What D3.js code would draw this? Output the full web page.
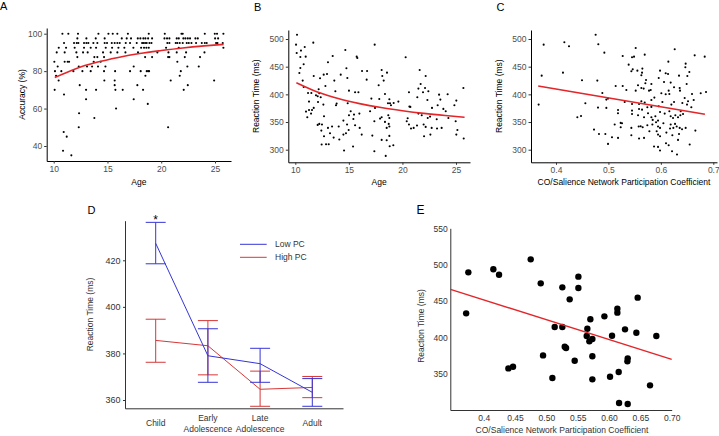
<!DOCTYPE html>
<html><head><meta charset="utf-8">
<script src="https://cdn.jsdelivr.net/npm/d3@7"></script>
<style>
body{margin:0;background:#fff}
svg{display:block}
text{font-family:"Liberation Sans",Arial,Helvetica,sans-serif}
</style>
</head><body>
<svg id="chart" width="719" height="436"></svg>
<script>
// ---------------- DATA ----------------
// Panel A: accuracy levels and the ages of subjects at each level
const accLevelsA = [100, 97.5, 95, 92.5, 90, 87.5, 85, 82.5, 80, 77.5, 75, 72.5, 70, 67.5, 65, 62.5, 60, 57.5, 55, 50, 47.5, 45, 37.5, 35];
const agesByLevelA = [
  [10.81, 11.36, 12.26, 14.16, 15.09, 15.49, 15.92, 16.9, 18.84, 20.33, 21.88, 22.0, 24.05, 24.98, 25.19, 25.78],
  [12.2, 13.04, 13.91, 14.74, 16.33, 16.79, 17.19, 17.82, 18.06, 18.34, 18.53, 18.78, 19.15, 20.3, 20.54, 20.76, 21.44, 21.63, 22.06, 22.25, 22.47, 22.68, 23.18, 23.4, 25.01, 25.29],
  [10.96, 11.89, 12.14, 12.29, 12.82, 13.04, 13.22, 13.69, 14.06, 14.74, 14.96, 15.4, 15.67, 15.92, 16.14, 16.7, 17.1, 17.72, 18.22, 18.34, 18.5, 18.65, 18.9, 19.09, 20.57, 20.76, 21.35, 21.5, 21.72, 22.0, 22.37, 22.56, 22.81, 23.24, 23.77, 24.05, 24.23, 25.1, 25.23, 25.72],
  [10.47, 11.15, 11.95, 12.82, 13.44, 13.94, 14.84, 15.43, 16.02, 16.57, 17.41, 18.13, 18.4, 18.62, 18.84, 20.45, 21.63, 25.78],
  [10.28, 11.02, 12.11, 12.73, 13.16, 14.59, 15.3, 15.92, 16.67, 17.84, 19.64, 20.67, 21.44, 22.31, 24.02],
  [12.2, 13.78, 14.06, 14.68, 18.5, 19.15, 20.64, 20.76, 22.19, 23.61],
  [10.06, 11.02, 11.3, 11.43, 13.72, 14.37, 21.5],
  [10.37, 12.33, 13.1, 13.57, 14.12, 14.81, 17.44, 22.43, 23.49],
  [10.12, 10.71, 11.83, 12.67, 13.44, 14.68, 15.71, 17.1, 18.09, 18.65, 18.78, 18.87, 21.82],
  [10.22, 18.53, 21.72],
  [10.46, 14.71, 15.67, 20.88, 24.92],
  [12.42, 15.67, 17.78, 22.47],
  [10.09, 13.01, 13.94, 15.74, 16.42, 18.31, 22.09],
  [10.96],
  [13.01, 17.44],
  [18.75],
  [15.8],
  [12.36],
  [13.78],
  [12.33, 20.64],
  [10.93],
  [11.21],
  [10.87],
  [11.64]
];
const fitAgeA = [10.1, 12, 14, 16, 18, 20, 22, 24, 25.8];
const fitAccA = [76.6, 81.2, 84.7, 87.3, 89.4, 91.0, 92.4, 93.5, 94.3];

// Panel B: age vs reaction time
const ageB = [10.16,10.07,10.88,11.68,10.53,10.13,10.97,10.47,10.78,10.38,10.47,14.67,17.41,15.79,15.73,13.49,13.05,14.77,16.23,16.7,11.72,12.65,14.24,12.31,12.96,13.64,14.86,10.69,16.66,12.81,15.01,15.58,15.89,17.1,13.74,12.18,12.24,10.78,11.19,11.5,11.93,12.09,12.37,11.28,12.12,13.86,13.8,14.89,12.62,11.0,11.28,11.56,11.72,11.47,11.12,12.68,15.01,15.48,15.17,15.98,16.98,17.38,15.42,14.49,12.24,12.09,12.49,13.05,13.43,14.05,14.83,14.98,15.58,16.01,16.2,17.19,12.43,14.73,13.58,14.11,14.49,12.68,13.24,12.46,12.87,13.12,14.55,15.39,17.38,
  20.3,18.06,18.56,18.12,18.25,17.78,21.61,22.17,21.7,22.11,21.49,22.42,21.92,21.39,20.61,22.33,23.42,24.22,23.54,17.84,18.37,18.78,18.65,18.84,18.93,19.18,19.62,20.65,20.74,22.76,23.29,23.82,24.04,25.03,24.85,25.69,17.44,18.06,18.78,18.68,18.37,17.91,18.72,18.78,18.53,20.4,20.49,20.61,20.8,21.05,21.36,21.49,21.8,21.98,22.17,22.58,22.36,23.2,23.66,24.29,22.73,23.23,22.02,22.61,24.97,25.03,25.13,25.72,18.78,18.53,18.81,19.15,18.44,18.06];
const rtB = [507.8,489.8,485.6,493.4,479,474.7,468.1,467.5,454.3,438.6,447.7,480.1,489.8,465.7,468.1,469.3,457.9,447.1,442.2,442.2,433.2,435.6,435.6,429,436.8,424.8,429.6,424.8,426.6,415.2,406.7,403.7,403.7,392.3,405.5,409.2,401.9,413.4,402.5,402.5,398.3,396.5,394.7,386.9,386.3,383.3,380.3,383.9,381.5,368.8,371.8,371.8,375.5,365.2,358.6,360.4,362.2,363.4,369.4,365.2,369.4,351.4,355.6,352.6,346.6,344.8,345.4,339.4,341.8,341.8,345.4,335.7,344.2,339.4,327.3,325.5,334.5,329.7,321.9,318.3,327.3,324.3,329.7,309.3,309.9,309.9,298.5,305.7,297.2,
  466.9,444,439.2,433.2,424.8,416.4,444,433.2,418.8,411.6,410.4,405.5,403.7,394.7,403.7,389.9,399.5,400.1,390.5,391.7,400.7,391.1,383.9,383.9,380.3,384.5,386.9,377.9,377.3,375.5,380.3,373.7,369.4,388.7,380.3,411.6,375.5,358.6,357.4,362.2,350.2,356.2,346.6,341.8,339.4,351.4,356.8,345.4,338.2,339.4,343.6,365.2,362.2,345.4,341.2,359.8,357.4,355,339.4,357.4,339.4,338.2,324.3,327.3,351.4,327.3,335.7,320.1,324.9,317.1,306.3,308.1,288.8,317.7];
const fitAgeB = [10.1, 12, 14, 16, 18, 20, 22, 24, 25.8];
const fitRtB = [421, 404.8, 392.5, 383.3, 376.1, 370.4, 365.6, 361.7, 358.7];

// Panel C: CO/Salience participation coefficient vs reaction time
const pcC = [0.4756,0.3765,0.4159,0.4248,0.4807,0.4922,0.3727,0.4133,0.4496,0.4788,0.5138,0.4884,0.4992,0.496,0.3669,0.456,0.4801,0.496,0.5182,0.4477,0.4407,0.5119,0.5233,0.4725,0.482,0.4941,0.5068,0.4992,
  0.552,0.5488,0.545,0.5272,0.5692,0.6264,0.6143,0.6645,0.6836,0.5386,0.5463,0.5552,0.5647,0.5641,0.5628,0.5437,0.5984,0.6092,0.6137,0.6473,0.6467,0.6543,0.6505,0.5959,0.6346,0.5717,0.5704,0.5564,0.5272,0.5819,0.606,0.6187,0.6492,0.676,0.6861,0.6594,0.5672,0.5628,0.5774,0.5806,0.552,0.5342,0.6251,0.6359,0.6365,0.6149,0.6009,0.6092,0.6162,0.6454,0.6518,0.6626,0.6499,0.5876,0.5819,0.5692,0.5628,0.5584,0.545,0.531,0.5742,0.5819,0.5959,0.6029,0.6251,0.641,0.62,0.6581,0.5183,0.545,0.545,0.5584,0.5641,0.5565,0.5679,0.5755,0.5819,0.5895,0.5984,0.6073,0.6162,0.6187,0.6232,0.6276,0.6327,0.6372,0.6378,0.6423,0.5259,0.5234,0.5437,0.5577,0.5615,0.5653,0.5742,0.5844,0.5838,0.5908,0.5946,0.5984,0.592,0.5946,0.6048,0.6187,0.6175,0.6238,0.627,0.6302,0.6359,0.6346,0.6404,0.6473,0.6658,0.6105,0.5781,0.5437,0.5584,0.5679,0.5946,0.5984,0.6219,0.6327,0.655,0.6098,0.6149,0.587,0.5946,0.5984,0.6213,0.6308,0.5183];
const rtC = [507.8,489.8,494,486.8,490.4,475.3,433.8,439.2,425.4,424.8,415.2,402.5,392.3,390.5,381.5,383.9,376.1,375.5,365.8,361,358.6,345.4,348.4,336.3,328.5,328.5,322.5,310.5,
  483.8,468.1,466.9,469.3,471.7,481.4,459.1,470.5,468.1,453.7,445.2,442.8,446.5,439.2,434.4,441.6,442.8,438,436.8,455.5,448.9,440.4,433.2,429.6,433.8,426,420,416.4,415.2,418.8,422.4,421.2,418.8,401.9,404.3,400.7,410.4,411.6,406.7,407.9,406.7,407.9,412.8,411.6,406.7,406.7,401.9,400.1,400.7,393.5,387.5,389.9,381.5,394.1,389.9,385.1,387.5,382.7,382.7,386.3,376.7,377.3,378.5,386.3,386.3,384.5,381.5,376.7,371.8,370.6,364.6,373.6,372.4,362.2,358.6,365.8,358.6,360.4,368.2,365.2,369.4,360.4,357.4,362.2,358.6,362.2,369.4,364.6,347.8,340.6,339.4,341.8,342.4,340.6,344.2,353.8,345.4,349.6,352.6,339.4,333.3,341.8,347.8,345.4,338.2,339.4,346.6,341.8,339.4,328.5,337,339.4,334.5,330.9,333.3,326.1,320.1,321.3,327.3,324.3,326.1,317.7,309.3,311.7,308.1,305.7,305.1,298.5,297.2,291.2,321.3];
const fitPcC = [0.366, 0.684];
const fitRtC = [415.2, 364];

// Panel D: group means and error bar limits
const groupsD = ["Child", "Early Adolescence", "Late Adolescence", "Adult"];
const groupLinesD = [["Child"], ["Early", "Adolescence"], ["Late", "Adolescence"], ["Adult"]];
const lowPcMean = [427.3, 379.0, 375.6, 363.3];
const lowPcHi   = [436.3, 390.6, 382.2, 369.2];
const lowPcLo   = [418.5, 367.6, 367.6, 357.3];
const highPcMean = [385.6, 383.3, 364.6, 365.4];
const highPcHi   = [394.7, 394.1, 372.4, 370.1];
const highPcLo   = [376.2, 370.8, 357.3, 361.0];
const ticksD = [360, 380, 400, 420];

// Panel E: group-level PC vs reaction time
const pcE = [0.372,0.3755,0.4154,0.4245,0.4394,0.4468,0.475,0.491,0.4947,0.5096,0.5133,0.5255,0.5255,0.5293,0.5314,0.5372,0.5452,0.5511,0.5511,0.5654,0.5644,0.5702,0.5686,0.5734,0.5734,0.5734,0.5926,0.6016,0.6048,0.6133,0.6133,0.6154,0.616,0.6255,0.6298,0.6293,0.6298,0.6436,0.6457,0.6654,0.6755];
const rtE = [433,489.4,493.6,486.2,357.3,359.6,507.3,474.3,375.2,344,414.2,468.8,414.2,387.2,385.3,452.3,367.9,483.5,467.9,411.9,401.8,424.8,394.5,397.7,373.9,342.2,428.9,345.9,402.3,439.5,434,352.3,309.6,411,371.1,367,308.3,406.4,454.6,334,401.8];
const fitPcE = [0.347, 0.70];
const fitRtE = [466, 369.6];
const xTicksE = [0.4, 0.45, 0.5, 0.55, 0.6, 0.65, 0.7];
const xTickLabelsE = ["0.4", "0.45", "0.50", "0.55", "0.60", "0.65", "0.70"];

// ---------------- DRAWING ----------------
const svg = d3.select("#chart");
const RED = "#e3262a";
const FONT = 8.5;

// scale anchored at two reference values, extended to the given pixel extent
function anchored(d0, d1, p0, p1, e0, e1) {
  const s = d3.scaleLinear().domain([d0, d1]).range([p0, p1]);
  return d3.scaleLinear().domain([s.invert(e0), s.invert(e1)]).range([e0, e1]);
}

function styleAxis(g, size) {
  g.select(".domain").attr("stroke", "#000").attr("stroke-width", 1);
  g.selectAll(".tick line").attr("stroke", "#333").attr("stroke-width", 1);
  g.selectAll(".tick text").attr("fill", "#4d4d4d").style("font-size", size + "px")
    .style("font-family", '"Liberation Sans",Arial,sans-serif');
}

function ggPanel(x, y, xt, yt, xf, letter, letterPos, xlab, xlabY, ylab, ylabX) {
  const g = svg.append("g");
  const ax = g.append("g").attr("transform", `translate(0,${y.range()[0]})`)
    .call(d3.axisBottom(x).tickValues(xt).tickFormat(xf).tickSize(2.5).tickSizeOuter(0).tickPadding(2.5));
  styleAxis(ax, 8.5);
  const ay = g.append("g").attr("transform", `translate(${x.range()[0]},0)`)
    .call(d3.axisLeft(y).tickValues(yt).tickSize(2.5).tickSizeOuter(0).tickPadding(2));
  styleAxis(ay, 8.5);
  const xm = (x.range()[0] + x.range()[1]) / 2;
  const ym = (y.range()[0] + y.range()[1]) / 2;
  g.append("text").attr("x", xm).attr("y", xlabY).attr("text-anchor", "middle")
    .style("font-size", FONT + "px").text(xlab);
  g.append("text").attr("transform", `translate(${ylabX},${ym}) rotate(-90)`).attr("text-anchor", "middle")
    .attr("dy", "0.35em").style("font-size", FONT + "px").text(ylab);
  g.append("text").attr("x", letterPos[0]).attr("y", letterPos[1]).style("font-size", "11px").text(letter);
  return g;
}

// ----- Panel A -----
const xA = anchored(10, 25, 53.7, 215, 46.7, 231);
const yA = anchored(40, 100, 146, 33.7, 161, 28);
const gA = ggPanel(xA, yA, [10, 15, 20, 25], [40, 60, 80, 100], d3.format("d"), "A", [0, 10], "Age", 184.5, "Accuracy (%)", 22.5);
const ptsA = [];
accLevelsA.forEach((lv, i) => agesByLevelA[i].forEach(a => ptsA.push([a, lv])));
gA.append("g").selectAll("circle").data(ptsA).join("circle")
  .attr("cx", d => xA(d[0])).attr("cy", d => yA(d[1])).attr("r", 1.05).attr("fill", "#000");
gA.append("path").datum(d3.zip(fitAgeA, fitAccA))
  .attr("d", d3.line().x(d => xA(d[0])).y(d => yA(d[1])).curve(d3.curveMonotoneX))
  .attr("fill", "none").attr("stroke", RED).attr("stroke-width", 1.6);

// ----- Panel B -----
const xB = anchored(10, 25, 295.3, 456, 288.3, 470);
const yB = anchored(300, 500, 149.7, 39, 162.3, 30);
const gB = ggPanel(xB, yB, [10, 15, 20, 25], [300, 350, 400, 450, 500], d3.format("d"), "B", [254, 10.5], "Age", 184.5, "Reaction Time (ms)", 256);
gB.append("g").selectAll("circle").data(d3.zip(ageB, rtB)).join("circle")
  .attr("cx", d => xB(d[0])).attr("cy", d => yB(d[1])).attr("r", 1.05).attr("fill", "#000");
gB.append("path").datum(d3.zip(fitAgeB, fitRtB))
  .attr("d", d3.line().x(d => xB(d[0])).y(d => yB(d[1])).curve(d3.curveMonotoneX))
  .attr("fill", "none").attr("stroke", RED).attr("stroke-width", 1.6);

// ----- Panel C -----
const xC = anchored(0.4, 0.7, 556, 713.3, 531, 717);
const yC = anchored(300, 500, 149.7, 39, 162.3, 30);
const gC = ggPanel(xC, yC, [0.4, 0.5, 0.6, 0.7], [300, 350, 400, 450, 500], d3.format(".1f"), "C", [496.5, 10.5], "CO/Salience Network Participation Coefficient", 184.5, "Reaction Time (ms)", 499.5);
gC.append("g").selectAll("circle").data(d3.zip(pcC, rtC)).join("circle")
  .attr("cx", d => xC(d[0])).attr("cy", d => yC(d[1])).attr("r", 1.05).attr("fill", "#000");
gC.append("path").datum(d3.zip(fitPcC, fitRtC))
  .attr("d", d3.line().x(d => xC(d[0])).y(d => yC(d[1])))
  .attr("fill", "none").attr("stroke", RED).attr("stroke-width", 1.6);

// ----- Panel D -----
const BLUE_D = "#3535d6", RED_D = "#d63838";
const xD = d3.scalePoint().domain(groupsD).range([125, 343]).padding(0.588);
const yD = anchored(360, 420, 400, 260.3, 408.3, 220.7);
const gD = svg.append("g");
const axD = gD.append("g").attr("transform", `translate(0,${yD.range()[0]})`)
  .call(d3.axisBottom(xD).tickSize(0).tickSizeOuter(0).tickFormat(""));
axD.select(".domain").attr("stroke", "#333");
const ayD = gD.append("g").attr("transform", `translate(125,0)`)
  .call(d3.axisLeft(yD).tickValues(ticksD).tickSize(2).tickSizeOuter(0).tickPadding(2.5));
ayD.select(".domain").attr("stroke", "#333");
ayD.selectAll(".tick line").attr("stroke", "#333");
ayD.selectAll(".tick text").attr("fill", "#333").style("font-size", "9px");
groupsD.forEach((gName, i) => {
  const lines = groupLinesD[i];
  const t = gD.append("text").attr("text-anchor", "middle").attr("fill", "#333").style("font-size", FONT + "px");
  if (lines.length === 1) {
    t.attr("x", xD(gName)).attr("y", 426.3).text(lines[0]);
  } else {
    lines.forEach((l, k) => t.append("tspan").attr("x", xD(gName)).attr("y", 421.3 + k * 10.3).text(l));
  }
});
gD.append("text").attr("transform", `translate(90,${(yD.range()[0] + yD.range()[1]) / 2}) rotate(-90)`)
  .attr("text-anchor", "middle").attr("dy", "0.35em").attr("fill", "#333").style("font-size", FONT + "px").text("Reaction Time (ms)");
gD.append("text").attr("x", 87.5).attr("y", 213.5).style("font-size", "11px").text("D");

function drawSeriesD(mean, hi, lo, color) {
  const s = gD.append("g").attr("stroke", color).attr("fill", "none").attr("stroke-width", 1);
  s.append("path").datum(groupsD.map((gName, i) => [xD(gName), yD(mean[i])])).attr("d", d3.line());
  groupsD.forEach((gName, i) => {
    const cx = xD(gName);
    s.append("line").attr("x1", cx).attr("x2", cx).attr("y1", yD(lo[i])).attr("y2", yD(hi[i]));
    s.append("line").attr("x1", cx - 10).attr("x2", cx + 10).attr("y1", yD(lo[i])).attr("y2", yD(lo[i]));
    s.append("line").attr("x1", cx - 10).attr("x2", cx + 10).attr("y1", yD(hi[i])).attr("y2", yD(hi[i]));
  });
}
drawSeriesD(highPcMean, highPcHi, highPcLo, RED_D);
drawSeriesD(lowPcMean, lowPcHi, lowPcLo, BLUE_D);
gD.append("text").attr("x", xD("Child")).attr("y", 223.5).attr("text-anchor", "middle").style("font-size", "12px").text("*");
const legD = [["Low PC", BLUE_D], ["High PC", RED_D]];
legD.forEach((d, i) => {
  const yy = 244.3 + i * 13;
  gD.append("line").attr("x1", 240).attr("x2", 266.7).attr("y1", yy).attr("y2", yy).attr("stroke", d[1]).attr("stroke-width", 1);
  gD.append("text").attr("x", 275).attr("y", yy).attr("dy", "0.35em").attr("fill", "#333").style("font-size", FONT + "px").text(d[0]);
});

// ----- Panel E -----
const xE = anchored(0.4, 0.7, 483.7, 671.7, 450.3, 671.7);
const yE = anchored(350, 550, 373.7, 228.3, 410, 228.3);
const gE = svg.append("g");
const axE = gE.append("g").attr("transform", `translate(0,${yE.range()[0]})`)
  .call(d3.axisBottom(xE).tickValues(xTicksE).tickFormat((d, i) => xTickLabelsE[i]).tickSize(0).tickSizeOuter(0).tickPadding(4.5));
axE.select(".domain").attr("stroke", "#333");
axE.selectAll(".tick text").attr("fill", "#333").style("font-size", FONT + "px");
const ayE = gE.append("g").attr("transform", `translate(${xE.range()[0]},0)`)
  .call(d3.axisLeft(yE).tickValues([350, 400, 450, 500, 550]).tickSize(0).tickSizeOuter(0).tickPadding(2.5));
ayE.select(".domain").attr("stroke", "#333");
ayE.selectAll(".tick text").attr("fill", "#333").style("font-size", FONT + "px");
gE.append("text").attr("x", (xE.range()[0] + xE.range()[1]) / 2 + 1).attr("y", 433).attr("text-anchor", "middle")
  .attr("fill", "#333").style("font-size", FONT + "px").text("CO/Salience Network Participation Coefficient");
gE.append("text").attr("transform", `translate(421,326) rotate(-90)`).attr("text-anchor", "middle").attr("dy", "0.35em")
  .attr("fill", "#333").style("font-size", FONT + "px").text("Reaction Time (ms)");
gE.append("text").attr("x", 416.5).attr("y", 214).style("font-size", "12px").text("E");
gE.append("g").selectAll("circle").data(d3.zip(pcE, rtE)).join("circle")
  .attr("cx", d => xE(d[0])).attr("cy", d => yE(d[1])).attr("r", 3.2).attr("fill", "#000");
gE.append("path").datum(d3.zip(fitPcE, fitRtE))
  .attr("d", d3.line().x(d => xE(d[0])).y(d => yE(d[1])))
  .attr("fill", "none").attr("stroke", RED).attr("stroke-width", 1.4);
</script>
</body></html>
